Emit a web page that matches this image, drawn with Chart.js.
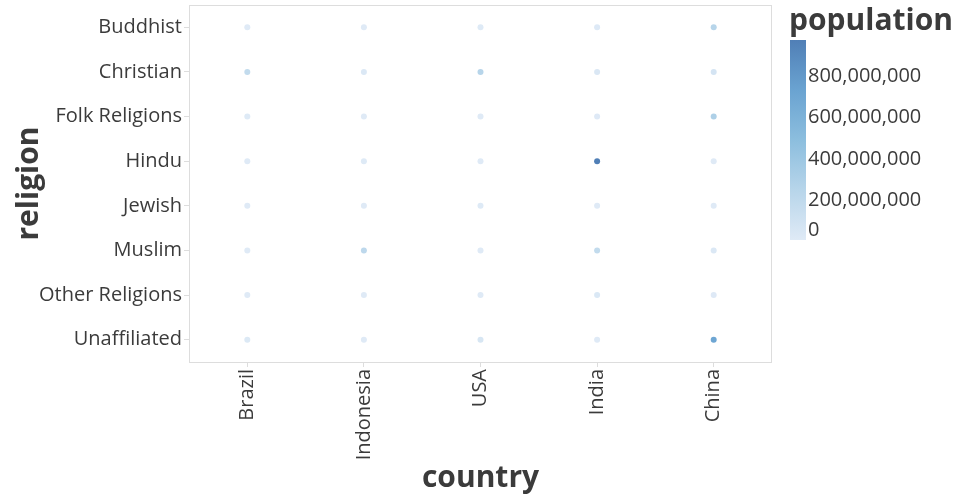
<!DOCTYPE html>
<html>
<head>
<meta charset="utf-8">
<script src="https://cdn.jsdelivr.net/npm/chart.js@4"></script>
<style>
  html, body { margin: 0; padding: 0; background: #fff; }
  #wrap { width: 960px; height: 500px; }
</style>
</head>
<body>
<div id="wrap"><canvas id="chart" width="960" height="500"></canvas></div>
<script>
// categories
const countries = ["Brazil", "Indonesia", "USA", "India", "China"];
const religions = ["Buddhist", "Christian", "Folk Religions", "Hindu", "Jewish", "Muslim", "Other Religions", "Unaffiliated"];

// population per country, same order as religions
const brazil = [250000, 175770000, 5540000, 10000, 110000, 70000, 420000, 15410000];
const indonesia = [1720000, 23660000, 820000, 4050000, 10000, 209120000, 10000, 10000];
const usa = [3570000, 243060000, 630000, 1790000, 5690000, 2770000, 1900000, 50980000];
const india = [9250000, 31130000, 5840000, 973750000, 10000, 176190000, 27560000, 1000000];
const china = [244130000, 68410000, 294320000, 20000, 10000, 24690000, 9110000, 700680000];

const legendTicks = [0, 200000000, 400000000, 600000000, 800000000];

const byCountry = [brazil, indonesia, usa, india, china];
const maxPop = Math.max(...byCountry.flat());

// colour ramp (light -> dark)
const stops = [
    [0, [223, 234, 246]],
    [0.25, [183, 213, 234]],
    [0.5, [140, 190, 222]],
    [0.75, [106, 163, 209]],
    [1, [80, 127, 182]],
];

function rampColor(t) {
    t = Math.max(0, Math.min(1, t));
    for (let i = 1; i < stops.length; i++) {
        if (t <= stops[i][0]) {
            const a = stops[i - 1], b = stops[i];
            const f = (t - a[0]) / (b[0] - a[0]);
            const c = a[1].map((v, k) => Math.round(v + (b[1][k] - v) * f));
            return "rgb(" + c.join(",") + ")";
        }
    }
    return "rgb(" + stops[stops.length - 1][1].join(",") + ")";
}

const points = [];
const colors = [];
countries.forEach((c, ci) => {
    religions.forEach((r, ri) => {
        points.push({ x: c, y: r });
        colors.push(rampColor(byCountry[ci][ri] / maxPop));
    });
});

const textColor = "#3b3b3b";
const fontFamily = "'Open Sans', sans-serif";

// draws frame of the plot and the colour legend
const extras = {
    id: "extras",
    beforeDatasetsDraw(chart) {
        const ctx = chart.ctx;
        const a = chart.chartArea;
        ctx.save();
        ctx.strokeStyle = "#dddddd";
        ctx.lineWidth = 1;
        ctx.strokeRect(a.left + 0.5, a.top + 0.5, a.right - a.left - 1, a.bottom - a.top);
        ctx.restore();
    },
    afterDraw(chart) {
        const ctx = chart.ctx;
        const gx = 790, gTop = 40, gBottom = 240, gw = 16;
        ctx.save();
        ctx.fillStyle = textColor;
        ctx.font = "bold 30px " + fontFamily;
        ctx.textBaseline = "alphabetic";
        ctx.textAlign = "left";
        ctx.fillText("population", 789, 30);

        const grad = ctx.createLinearGradient(0, gBottom, 0, gTop);
        stops.forEach(s => grad.addColorStop(s[0], "rgb(" + s[1].join(",") + ")"));
        ctx.fillStyle = grad;
        ctx.fillRect(gx, gTop, gw, gBottom - gTop);

        ctx.fillStyle = textColor;
        ctx.font = "20px " + fontFamily;
        ctx.textBaseline = "middle";
        legendTicks.forEach(v => {
            let y = gBottom - (v / maxPop) * (gBottom - gTop);
            if (y > gBottom - 11) y = gBottom - 11;
            ctx.fillText(v.toLocaleString("en-US"), gx + 18, y + 1);
        });
        ctx.restore();
    }
};

new Chart(document.getElementById("chart").getContext("2d"), {
    type: "scatter",
    data: {
        datasets: [{
            data: points,
            backgroundColor: colors,
            borderWidth: 0,
            pointRadius: 3,
            pointHoverRadius: 3,
        }],
    },
    options: {
        responsive: false,
        animation: false,
        layout: { padding: { top: 5, right: 188, left: 0, bottom: 0 } },
        plugins: {
            legend: { display: false },
            tooltip: { enabled: false },
        },
        scales: {
            x: {
                type: "category",
                labels: countries,
                offset: true,
                border: { display: false },
                grid: { drawOnChartArea: false, drawTicks: true, tickLength: 5, color: "#dddddd" },
                ticks: { minRotation: 90, maxRotation: 90, padding: 2, color: textColor, font: { size: 20, family: fontFamily } },
                title: { display: true, text: "country", color: textColor, padding: { top: 0, bottom: 4 }, font: { size: 30, weight: "bold", family: fontFamily } },
                afterFit: (s) => { s.height = 138; },
            },
            y: {
                type: "category",
                labels: religions,
                offset: true,
                border: { display: false },
                grid: { drawOnChartArea: false, drawTicks: true, tickLength: 5, color: "#dddddd" },
                ticks: { padding: 2, color: textColor, font: { size: 20, family: fontFamily } },
                title: { display: true, text: "religion", color: textColor, padding: { top: 11, bottom: 0 }, font: { size: 30, weight: "bold", family: fontFamily } },
                afterFit: (s) => { s.width = 189; s.paddingTop = 0; s.paddingBottom = 0; },
            },
        },
    },
    plugins: [extras],
});
</script>
</body>
</html>
